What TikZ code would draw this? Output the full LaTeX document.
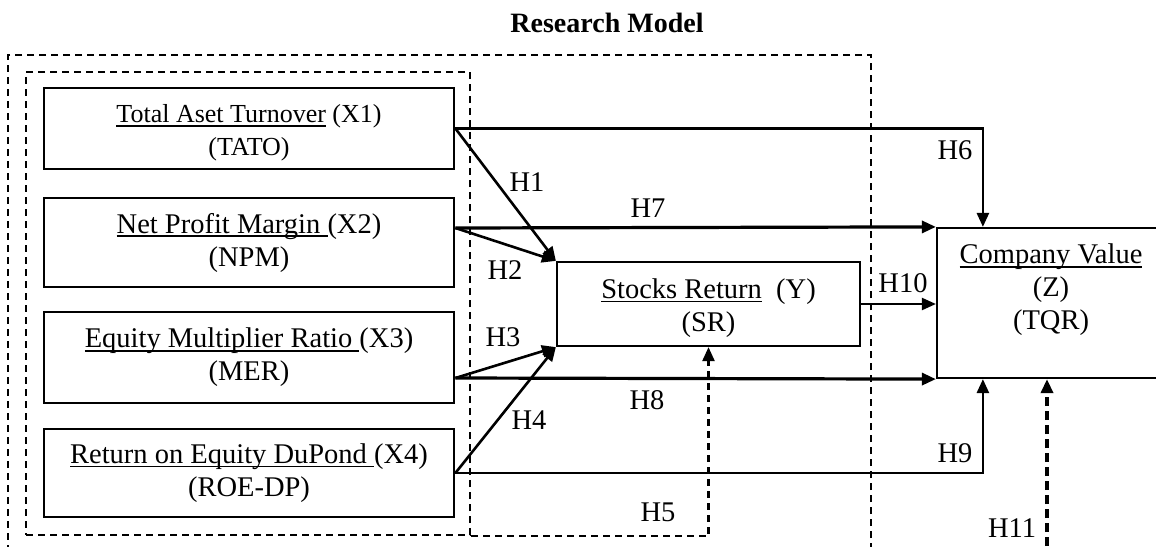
\documentclass[tikz,border=0pt]{standalone}
\usepackage{fontspec}
\setmainfont{Liberation Serif}
\usetikzlibrary{arrows.meta,calc}
\newsavebox\myulbox
\newcommand\myul[1]{\leavevmode\sbox\myulbox{#1}\rlap{\rule[-4pt]{\wd\myulbox}{1.8pt}}\usebox\myulbox}
\begin{document}
\begin{tikzpicture}[x=1pt,y=-1pt,
  txt/.style={font=\fontsize{28.5}{33}\selectfont},
  stxt/.style={font=\fontsize{26}{33}\selectfont},
  xbox/.style={draw,line width=2.8pt,minimum width=410pt,inner sep=0pt,align=center,txt},
  dbox/.style={draw,line width=2.2pt,dash pattern=on 7pt off 5pt,inner sep=0pt},
  tip/.style={-{Triangle[length=14pt,width=12pt]}},
  conn/.style={line width=2.6pt,tip},
  bold conn/.style={line width=3.2pt,tip},
  thin conn/.style={line width=2.2pt,tip},
  dconn/.style={line width=2.4pt,dash pattern=on 7pt off 5pt,tip},
  tdconn/.style={line width=3.4pt,dash pattern=on 9pt off 5pt,tip},
  hlab/.style={txt,inner sep=0pt}
]
\useasboundingbox (0,0) rectangle (1156,546);
\clip (0,0) rectangle (1156,546);
\fill[white] (0,0) rectangle (1156,546);

% title
\node[font=\fontsize{28}{34}\bfseries\selectfont,anchor=base] (title) at (607,32) {Research Model};

% dashed frames
\node[dbox,minimum width=863pt,minimum height=520pt] (Out) at (439.5,315) {};
\node[dbox,minimum width=444pt,minimum height=463pt] (In) at (248,303.5) {};

% independent variables
\node[xbox,minimum height=81pt] (X1) at (249,128.5) {};
\node[stxt,align=center,inner sep=0pt] (X1t) at (249,133) {\myul{Total Aset Turnover} (X1)\\(TATO)};
\node[xbox,minimum height=89pt] (X2) at (249,242.5) {\myul{Net Profit Margin }(X2)\\(NPM)};
\node[xbox,minimum height=91pt] (X3) at (249,357.5) {\myul{Equity Multiplier Ratio }(X3)\\(MER)};
\node[xbox,minimum height=88pt] (X4) at (249,473) {\myul{Return on Equity DuPond }(X4)\\(ROE-DP)};

% intervening and dependent variables
\node[draw,line width=2.2pt,minimum width=303pt,minimum height=84pt,inner sep=0pt] (SR) at (708.5,304) {};
\node[txt,align=center,inner sep=0pt] (SRt) at (708.5,308) {\myul{Stocks Return}\ \ (Y)\\(SR)};
\node[draw,line width=2.2pt,minimum width=240pt,minimum height=150pt,inner sep=0pt] (Z) at (1057,303) {};
\node[txt,align=center,inner sep=0pt] (Ztext) at (1051,290) {\myul{Company Value}\\(Z)\\(TQR)};

% helper coordinates
\coordinate (x2a) at ($(X2.east)+(0,-14.5)$);
\coordinate (x3a) at ($(X3.east)+(0,20.5)$);
\coordinate (zt) at ($(Z.north west)+(47,0)$);
\coordinate (zb) at ($(Z.south west)+(47,0)$);
\coordinate (h11s) at (1047,560);

% connectors
\draw[conn] (X1.east) -- (SR.north west);
\draw[conn] (x2a) -- (SR.north west);
\draw[conn] (x3a) -- (SR.south west);
\draw[conn] (X4.east) -- (SR.south west);
\draw[dconn] (In.south east) -| (SR.south);
\draw[conn] (X1.east) -| (zt);
\draw[bold conn] (x2a) -- (Z.north west);
\draw[bold conn] (x3a) -- (Z.south west);
\draw[conn] (X4.east) -| (zb);
\draw[thin conn] (SR.east) -- (SR.east -| Z.west);
\draw[tdconn] (h11s) -- (h11s |- Z.south);

% labels
\node[hlab] (H1) at (527,182) {H1};
\node[hlab] (H2) at (505,270) {H2};
\node[hlab] (H3) at (503,337) {H3};
\node[hlab] (H4) at (529,420) {H4};
\node[hlab] (H5) at (658,512) {H5};
\node[hlab] (H6) at (955,150) {H6};
\node[hlab] (H7) at (648,208) {H7};
\node[hlab] (H8) at (647,400) {H8};
\node[hlab] (H9) at (955,453) {H9};
\node[hlab] (H10) at (903,283) {H10};
\node[hlab] (H11) at (1012,528) {H11};
\end{tikzpicture}
\end{document}
